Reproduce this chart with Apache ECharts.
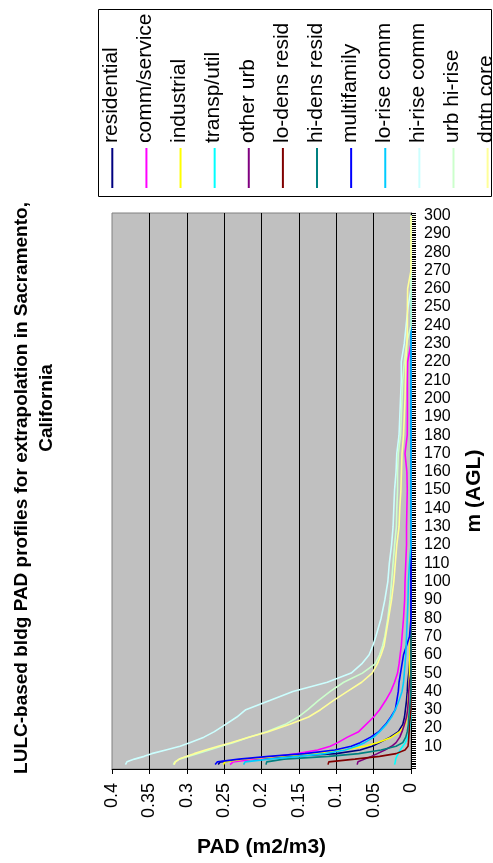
<!DOCTYPE html>
<html>
<head>
<meta charset="utf-8">
<script src="https://cdn.jsdelivr.net/npm/echarts@6/dist/echarts.min.js"></script>
<style>
  html, body { margin: 0; padding: 0; background: #ffffff; }
  #chart { width: 493px; height: 863px; }
</style>
</head>
<body>
<div id="chart"></div>
<script>
// ---------------- DATA ----------------
const heights = [0, 1.5, 3, 4.5, 6, 8, 10, 12, 15, 18, 22, 26, 30, 35, 40, 45, 50, 55, 60, 65, 70, 80, 90, 100, 110, 120, 130, 140, 150, 160, 170, 180, 190, 200, 210, 220, 230, 240, 250, 260, 270, 280, 290, 300];

const residential = [0.258, 0.255, 0.215, 0.17, 0.10, 0.068, 0.052, 0.042, 0.028, 0.017, 0.011, 0.0087, 0.0075, 0.006, 0.005, 0.0044, 0.003, 0.002, 0.001, 0, 0, 0, 0, 0, 0, 0, 0, 0, 0, 0, 0, 0, 0, 0, 0, 0, 0, 0, 0, 0, 0, 0, 0, 0];
const commService = [0.242, 0.238, 0.21, 0.18, 0.152, 0.125, 0.108, 0.098, 0.085, 0.070, 0.060, 0.050, 0.042, 0.034, 0.027, 0.022, 0.018, 0.016, 0.0145, 0.013, 0.012, 0.010, 0.0085, 0.008, 0.007, 0.006, 0.006, 0.0055, 0.005, 0.0055, 0.008, 0.005, 0.0048, 0.0048, 0.0048, 0.0045, 0, 0, 0, 0, 0, 0, 0, 0];
const industrial = [0.251, 0.249, 0.225, 0.18, 0.13, 0.09, 0.062, 0.045, 0.026, 0.015, 0.0075, 0.0055, 0.0045, 0.004, 0.003, 0.0025, 0.002, 0.002, 0.0015, 0.0013, 0.001, 0.0008, 0.0005, 0, 0, 0, 0, 0, 0, 0, 0, 0, 0, 0, 0, 0, 0, 0, 0, 0, 0, 0, 0, 0];
const transpUtil = [0.022, 0.021, 0.0205, 0.019, 0.017, 0.0145, 0.011, 0.0075, 0.0044, 0.0025, 0.001, 0, 0, 0, 0, 0, 0, 0, 0, 0, 0, 0, 0, 0, 0, 0, 0, 0, 0, 0, 0, 0, 0, 0, 0, 0, 0, 0, 0, 0, 0, 0, 0, 0];
const otherUrb = [0.072, 0.071, 0.062, 0.053, 0.045, 0.035, 0.026, 0.020, 0.015, 0.012, 0.0087, 0.006, 0.0045, 0.0035, 0.003, 0.002, 0, 0, 0, 0, 0, 0, 0, 0, 0, 0, 0, 0, 0, 0, 0, 0, 0, 0, 0, 0, 0, 0, 0, 0, 0, 0, 0, 0];
const loDensResid = [0.111, 0.110, 0.075, 0.042, 0.02, 0.008, 0.004, 0.0035, 0.003, 0.0025, 0.002, 0.001, 0, 0, 0, 0, 0, 0, 0, 0, 0, 0, 0, 0, 0, 0, 0, 0, 0, 0, 0, 0, 0, 0, 0, 0, 0, 0, 0, 0, 0, 0, 0, 0];
const hiDensResid = [0.194, 0.193, 0.17, 0.11, 0.07, 0.04, 0.02, 0.011, 0.007, 0.005, 0.0035, 0.003, 0.002, 0.001, 0, 0, 0, 0, 0, 0, 0, 0, 0, 0, 0, 0, 0, 0, 0, 0, 0, 0, 0, 0, 0, 0, 0, 0, 0, 0, 0, 0, 0, 0];
const multifamily = [0.262, 0.259, 0.23, 0.19, 0.142, 0.102, 0.08, 0.068, 0.054, 0.043, 0.034, 0.027, 0.021, 0.019, 0.017, 0.016, 0.014, 0.012, 0.010, 0.006, 0.002, 0, 0, 0, 0, 0, 0, 0, 0, 0, 0, 0, 0, 0, 0, 0, 0, 0, 0, 0, 0, 0, 0, 0];
const loRiseComm = [0.224, 0.222, 0.19, 0.15, 0.115, 0.088, 0.073, 0.062, 0.050, 0.042, 0.033, 0.026, 0.021, 0.016, 0.012, 0.010, 0.009, 0.008, 0.007, 0.0065, 0.006, 0.005, 0.004, 0.0035, 0.002, 0, 0, 0, 0, 0, 0, 0, 0, 0, 0, 0, 0, 0, 0, 0, 0, 0, 0, 0];
const hiRiseComm = [0.382, 0.380, 0.370, 0.357, 0.347, 0.328, 0.309, 0.296, 0.277, 0.263, 0.248, 0.233, 0.221, 0.189, 0.158, 0.112, 0.080, 0.066, 0.056, 0.051, 0.047, 0.040, 0.035, 0.031, 0.029, 0.026, 0.024, 0.023, 0.022, 0.020, 0.019, 0.016, 0.015, 0.014, 0.013, 0.013, 0.009, 0.0065, 0.004, 0, 0, 0, 0, 0];
const urbHiRise = [0.318, 0.316, 0.31, 0.298, 0.286, 0.27, 0.254, 0.238, 0.217, 0.193, 0.168, 0.151, 0.138, 0.124, 0.108, 0.090, 0.065, 0.048, 0.042, 0.038, 0.035, 0.031, 0.028, 0.026, 0.024, 0.022, 0.0196, 0.019, 0.018, 0.018, 0.017, 0.014, 0.013, 0.012, 0.011, 0.009, 0.006, 0, 0, 0, 0, 0, 0, 0];
const dntnCore = [0.317, 0.315, 0.31, 0.30, 0.29, 0.275, 0.258, 0.241, 0.217, 0.191, 0.162, 0.137, 0.121, 0.104, 0.085, 0.066, 0.052, 0.045, 0.040, 0.036, 0.034, 0.030, 0.026, 0.023, 0.021, 0.019, 0.016, 0.015, 0.0135, 0.0128, 0.012, 0.010, 0.009, 0.008, 0.0075, 0.007, 0.0055, 0.0048, 0.0048, 0.0045, 0, 0, 0, 0];

const seriesNames = ['residential', 'comm/service', 'industrial', 'transp/util', 'other urb', 'lo-dens resid', 'hi-dens resid', 'multifamily', 'lo-rise comm', 'hi-rise comm', 'urb hi-rise', 'dntn core'];
const seriesValues = [residential, commService, industrial, transpUtil, otherUrb, loDensResid, hiDensResid, multifamily, loRiseComm, hiRiseComm, urbHiRise, dntnCore];
const seriesColors = ['#000080', '#FF00FF', '#FFFF00', '#00FFFF', '#800080', '#800000', '#008080', '#0000FF', '#00CCFF', '#CCFFFF', '#CCFFCC', '#FFFF99'];

const padTicks = [0, 0.05, 0.1, 0.15, 0.2, 0.25, 0.3, 0.35, 0.4];
const heightLabels = [10, 20, 30, 40, 50, 60, 70, 80, 90, 100, 110, 120, 130, 140, 150, 160, 170, 180, 190, 200, 210, 220, 230, 240, 250, 260, 270, 280, 290, 300];
const heightTicks = [];
for (let v = -2; v <= 301; v++) heightTicks.push(v);

const titleLines = ['LULC-based bldg PAD profiles for extrapolation in Sacramento,', 'California'];
const xName = 'PAD (m2/m3)';
const yName = 'm (AGL)';

// ---------------- CHART ----------------
const FONT = '"Liberation Sans", Arial, Helvetica, sans-serif';
const chart = echarts.init(document.getElementById('chart'), null, { renderer: 'canvas' });

const series = seriesNames.map((name, i) => ({
  name: name,
  type: 'line',
  showSymbol: false,
  symbol: 'none',
  animation: false,
  data: heights.map((h, k) => [seriesValues[i][k], h]),
  lineStyle: { color: seriesColors[i], width: 1.6 },
  itemStyle: { color: seriesColors[i] },
  z: 2 + i
}));

// legend (custom, rotated)
const legendGraphics = [{
  type: 'rect',
  shape: { x: 98.5, y: 9.5, width: 393, height: 187 },
  style: { fill: '#ffffff', stroke: '#000000', lineWidth: 1 },
  z: 1
}];
seriesNames.forEach((name, i) => {
  const cx = 112.3 + i * 34.12;
  legendGraphics.push({
    type: 'line',
    shape: { x1: cx, y1: 148, x2: cx, y2: 188 },
    style: { stroke: seriesColors[i], lineWidth: 2 },
    z: 2
  });
  legendGraphics.push({
    type: 'text',
    x: cx - 1,
    y: 143,
    rotation: Math.PI / 2,
    style: {
      text: name,
      fontSize: 21,
      fontFamily: FONT,
      fill: '#000000',
      align: 'left',
      verticalAlign: 'middle'
    },
    z: 2
  });
});

const titleGraphics = [
  {
    type: 'text', x: 22, y: 488, rotation: Math.PI / 2,
    style: { text: titleLines[0], fontSize: 19, fontWeight: 'bold', fontFamily: FONT, fill: '#000', align: 'center', verticalAlign: 'middle' }
  },
  {
    type: 'text', x: 47, y: 408, rotation: Math.PI / 2,
    style: { text: titleLines[1], fontSize: 19, fontWeight: 'bold', fontFamily: FONT, fill: '#000', align: 'center', verticalAlign: 'middle' }
  }
];

const option = {
  animation: false,
  backgroundColor: '#ffffff',
  grid: {
    left: 112, top: 213, width: 306, height: 559,
    show: true, backgroundColor: '#C0C0C0', borderColor: '#808080', borderWidth: 1,
    containLabel: false
  },
  xAxis: {
    type: 'value',
    inverse: true,
    min: padTicks[0],
    max: padTicks[padTicks.length - 1],
    interval: 0.05,
    position: 'bottom',
    name: xName,
    nameLocation: 'middle',
    nameGap: 68,
    nameTextStyle: { fontSize: 21, fontWeight: 'bold', fontFamily: FONT, color: '#000' },
    axisLine: { show: true, onZero: false, lineStyle: { color: '#000', width: 1 } },
    axisTick: { show: true, inside: false, length: 5, lineStyle: { color: '#000' } },
    axisLabel: {
      rotate: 90, margin: 14, fontSize: 18, fontFamily: FONT, color: '#000',
      formatter: v => String(Math.round(v * 100) / 100)
    },
    splitLine: { show: true, showMinLine: false, showMaxLine: false, lineStyle: { color: '#000', width: 1 } }
  },
  yAxis: {
    type: 'value',
    position: 'right',
    min: -2.4,
    max: 301.4,
    name: yName,
    nameLocation: 'middle',
    nameGap: 53,
    nameRotate: 90,
    nameTextStyle: { fontSize: 21, fontWeight: 'bold', fontFamily: FONT, color: '#000' },
    axisLine: { show: true, onZero: false, lineStyle: { color: '#000', width: 1 } },
    axisTick: { show: true, inside: false, length: 5, customValues: heightTicks, lineStyle: { color: '#000', width: 1 } },
    axisLabel: { show: true, margin: 13, fontSize: 16, fontFamily: FONT, color: '#000', customValues: heightLabels },
    splitLine: { show: false }
  },
  legend: { show: false },
  tooltip: { show: false },
  graphic: { elements: legendGraphics.concat(titleGraphics) },
  series: series
};

chart.setOption(option);
</script>
</body>
</html>
